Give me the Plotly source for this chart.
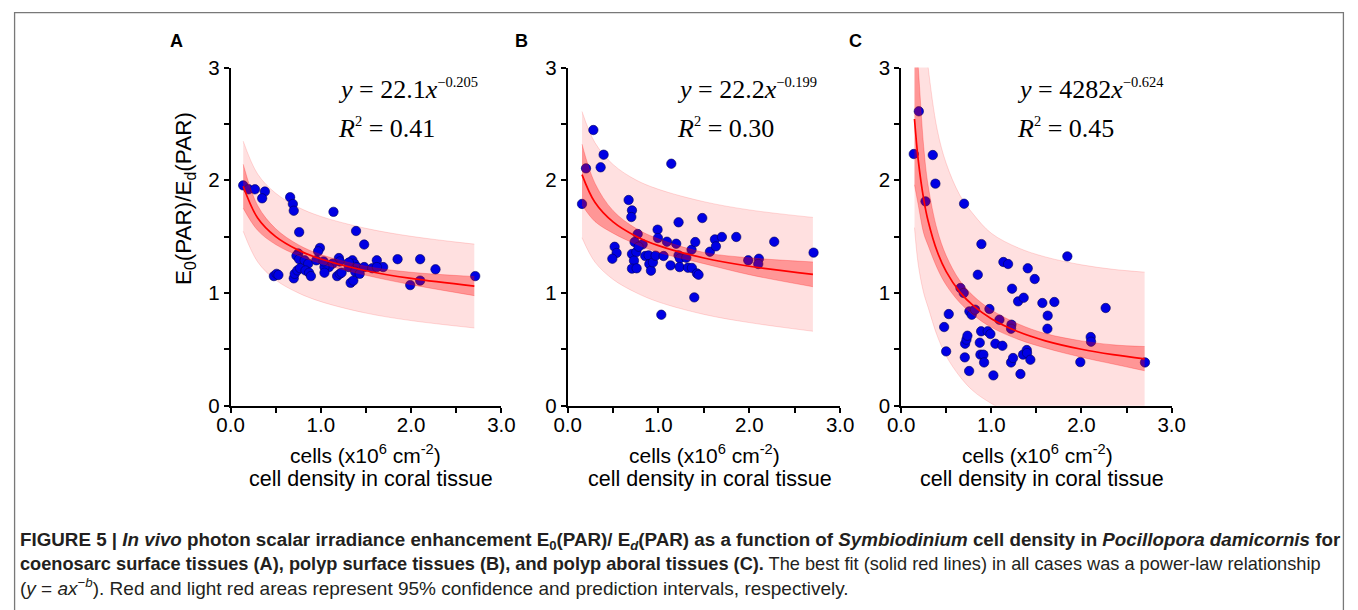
import plotly.graph_objects as go

# full-window figure (body margin removed by a post script)
W, H = 1358, 610
# the photographed page lands slightly inset/scaled in the picture; these
# constants map a wanted picture position to a page position
SX, OX = 0.98, 13.3
SY, OY = 0.963, 10.4

# ---------------- data ----------------
# Panel A: coenosarc surface tissues
a_x = [0.14, 0.20, 0.27, 0.38, 0.35, 0.66, 0.69, 0.70, 1.14, 0.76, 1.39, 1.48, 0.99, 0.97, 0.75,
       0.73, 0.76, 0.82, 0.86, 0.95, 1.20, 1.21, 1.13, 1.09, 1.04, 1.04, 1.35, 1.37, 1.40, 1.48,
       1.31, 1.57, 1.62, 1.69, 1.62, 1.85, 2.10, 2.27, 2.71, 1.99, 2.10, 1.33, 1.36, 1.38, 1.43,
       0.48, 0.51, 0.53, 0.70, 0.71, 0.74, 0.77, 0.83, 0.87, 0.89, 1.18, 1.21, 1.23, 1.03, 1.31]
a_y = [1.955, 1.92, 1.92, 1.90, 1.84, 1.85, 1.79, 1.73, 1.72, 1.54, 1.55, 1.43, 1.40, 1.37, 1.35,
       1.33, 1.30, 1.29, 1.26, 1.29, 1.31, 1.28, 1.26, 1.23, 1.23, 1.18, 1.29, 1.26, 1.23, 1.23,
       1.23, 1.22, 1.29, 1.23, 1.23, 1.30, 1.30, 1.21, 1.15, 1.07, 1.11, 1.09, 1.11, 1.19, 1.17,
       1.15, 1.17, 1.16, 1.13, 1.17, 1.20, 1.22, 1.20, 1.18, 1.15, 1.15, 1.17, 1.18, 1.28, 1.27]

# Panel B: polyp surface tissues
b_x = [0.158, 0.202, 0.283, 0.363, 0.396, 0.517, 0.539, 0.492, 0.671, 0.708, 0.701, 0.771, 0.737,
       0.708, 0.756, 0.730, 0.708, 0.759, 0.825, 0.781, 0.854, 0.891, 0.899, 0.917, 0.939, 0.968,
       0.990, 0.994, 1.056, 1.093, 1.141, 1.133, 1.195, 1.221, 1.221, 1.236, 1.232, 1.306, 1.324,
       1.364, 1.368, 1.405, 1.394, 1.423, 1.441, 1.482, 1.566, 1.621, 1.632, 1.698, 1.856, 1.988,
       2.105, 2.098, 2.274, 2.707, 1.031]
b_y = [1.79, 2.106, 2.446, 2.115, 2.227, 1.41, 1.355, 1.304, 1.825, 1.733, 1.674, 1.523, 1.452,
       1.346, 1.363, 1.287, 1.216, 1.219, 1.432, 1.411, 1.328, 1.334, 1.257, 1.198, 1.272, 1.331,
       1.562, 1.488, 1.328, 1.455, 2.147, 1.245, 1.437, 1.627, 1.334, 1.307, 1.23, 1.313, 1.224,
       1.384, 1.222, 1.452, 0.961, 1.174, 1.162, 1.665, 1.366, 1.476, 1.414, 1.497, 1.497, 1.290,
       1.304, 1.257, 1.455, 1.358, 0.807]

# Panel C: polyp aboral tissues
c_x = [0.140, 0.196, 0.270, 0.351, 0.380, 0.698, 0.890, 0.850, 0.658, 0.694, 0.757, 0.783, 0.820,
       0.528, 0.477, 0.499, 0.706, 0.754, 0.709, 0.724, 0.735, 0.872, 0.887, 0.879, 0.912, 0.920,
       0.960, 0.990, 0.979, 1.023, 1.045, 1.123, 1.090, 1.134, 1.186, 1.223, 1.219, 1.230, 1.219,
       1.241, 1.297, 1.359, 1.323, 1.352, 1.393, 1.396, 1.433, 1.404, 1.481, 1.566, 1.699, 1.625,
       1.622, 1.843, 1.987, 2.102, 2.106, 2.268, 2.704]
c_y = [2.233, 2.612, 1.813, 2.224, 1.970, 1.792, 1.434, 1.162, 1.044, 1.000, 0.837, 0.807, 0.852,
       0.813, 0.698, 0.482, 0.429, 0.308, 0.550, 0.586, 0.621, 0.559, 0.660, 0.453, 0.453, 0.384,
       0.660, 0.636, 0.858, 0.269, 0.550, 0.532, 0.763, 1.275, 1.257, 0.719, 0.683, 1.038, 0.384,
       0.423, 0.926, 0.958, 0.281, 0.453, 0.494, 0.467, 0.408, 1.219, 1.124, 0.911, 0.920, 0.799,
       0.683, 1.325, 0.387, 0.609, 0.568, 0.867, 0.384]

# printed power-law fits  y = a * cells^-b  (cells in cells cm^-2)
fit_a = [22.1, 22.2, 4282]
fit_b = [0.205, 0.199, 0.624]
eq_a = ["22.1", "22.2", "4282"]
eq_b = ["0.205", "0.199", "0.624"]
r2 = ["0.41", "0.30", "0.45"]

# band knots and half widths (A, B)
a_knots = [0.14, 0.3, 0.5, 0.75, 1.0, 1.5, 2.0, 2.7]
a_conf_hw = [0.195, 0.11, 0.07, 0.048, 0.04, 0.04, 0.055, 0.085]
a_pred_hw = [0.40, 0.39, 0.385, 0.38, 0.378, 0.376, 0.374, 0.372]
b_knots = [0.158, 0.3, 0.5, 0.75, 1.0, 1.5, 2.0, 2.7]
b_conf_hw = [0.27, 0.17, 0.10, 0.07, 0.06, 0.05, 0.075, 0.11]
b_pred_hw = [0.56, 0.53, 0.51, 0.50, 0.50, 0.50, 0.50, 0.505]
# panel C band limits (absolute values)
c_knots = [0.148, 0.19, 0.25, 0.3, 0.4, 0.5, 0.65, 0.8, 1.0, 1.3, 1.6, 2.0, 2.35, 2.7]
c_conf_hi = [3.45, 3.0, 2.30, 1.95, 1.56, 1.33, 1.11, 0.975, 0.85, 0.725, 0.64, 0.575, 0.54, 0.525]
c_conf_lo = [1.96, 1.78, 1.53, 1.42, 1.22, 1.07, 0.915, 0.805, 0.695, 0.588, 0.512, 0.43, 0.37, 0.31]
c_pred_hi = [4.6, 4.0, 3.4, 3.0, 2.45, 2.15, 1.87, 1.70, 1.53, 1.40, 1.32, 1.25, 1.21, 1.185]
c_pred_lo = [1.58, 1.25, 1.0, 0.87, 0.62, 0.44, 0.26, 0.13, 0.02, -0.1, -0.18, -0.25, -0.3, -0.34]

x_ticks = [0, 1, 2, 3]
x_ticktext = ["0.0", "1.0", "2.0", "3.0"]
y_ticks = [0, 1, 2, 3]
y_ticktext = ["0", "1", "2", "3"]
panel_labels = ["A", "B", "C"]


def fit(k, xs):
    return [fit_a[k] * (x * 1e6) ** (-fit_b[k]) for x in xs]


def px(x):
    # wanted picture pixel -> paper fraction
    return ((x - OX) / SX) / W


def py(y):
    return 1 - ((y - OY) / SY) / H


fa = fit(0, a_knots)
fb = fit(1, b_knots)
fc = fit(2, c_knots)
panels = [
    dict(x=a_x, y=a_y, k=a_knots, f=fa,
         clo=[f - h for f, h in zip(fa, a_conf_hw)], chi=[f + h for f, h in zip(fa, a_conf_hw)],
         plo=[f - h for f, h in zip(fa, a_pred_hw)], phi=[f + h for f, h in zip(fa, a_pred_hw)]),
    dict(x=b_x, y=b_y, k=b_knots, f=fb,
         clo=[f - h for f, h in zip(fb, b_conf_hw)], chi=[f + h for f, h in zip(fb, b_conf_hw)],
         plo=[f - h for f, h in zip(fb, b_pred_hw)], phi=[f + h for f, h in zip(fb, b_pred_hw)]),
    dict(x=c_x, y=c_y, k=c_knots, f=fc, clo=c_conf_lo, chi=c_conf_hi, plo=c_pred_lo, phi=c_pred_hi),
]

x_dom_px = [(230, 501), (567.3, 840), (901, 1171.7)]
y_dom = [py(404.4), py(66)]

fig = go.Figure()
LIGHT = "rgba(255,0,0,0.12)"
DARK = "rgba(255,0,0,0.33)"
for i, p in enumerate(panels):
    xa = "x" if i == 0 else f"x{i+1}"
    ya = "y" if i == 0 else f"y{i+1}"
    sp = dict(shape="spline", smoothing=1.0)
    fig.add_trace(go.Scatter(x=p["k"], y=p["plo"], mode="lines", xaxis=xa, yaxis=ya,
                             line=dict(color="rgba(255,0,0,0.18)", width=0.8, **sp),
                             hoverinfo="skip", showlegend=False))
    fig.add_trace(go.Scatter(x=p["k"], y=p["phi"], mode="lines", xaxis=xa, yaxis=ya, fill="tonexty",
                             fillcolor=LIGHT, line=dict(color="rgba(255,0,0,0.18)", width=0.8, **sp),
                             hoverinfo="skip", showlegend=False))
    fig.add_trace(go.Scatter(x=p["x"], y=p["y"], mode="markers", xaxis=xa, yaxis=ya,
                             marker=dict(size=9.4, color="rgb(0,0,228)",
                                         line=dict(color="rgb(0,0,90)", width=0.6)),
                             showlegend=False))
    fig.add_trace(go.Scatter(x=p["k"], y=p["clo"], mode="lines", xaxis=xa, yaxis=ya,
                             line=dict(color="rgba(255,0,0,0.3)", width=0.8, **sp),
                             hoverinfo="skip", showlegend=False))
    fig.add_trace(go.Scatter(x=p["k"], y=p["chi"], mode="lines", xaxis=xa, yaxis=ya, fill="tonexty",
                             fillcolor=DARK, line=dict(color="rgba(255,0,0,0.3)", width=0.8, **sp),
                             hoverinfo="skip", showlegend=False))
    fig.add_trace(go.Scatter(x=p["k"], y=p["f"], mode="lines", xaxis=xa, yaxis=ya,
                             line=dict(color="rgb(255,0,0)", width=1.7, **sp),
                             hoverinfo="skip", showlegend=False))

axis_font = dict(family="Liberation Sans, Arial, sans-serif", size=20.5, color="black")
layout = dict(
    width=W, height=H, margin=dict(l=0, r=0, t=0, b=0, pad=0),
    paper_bgcolor="white", plot_bgcolor="white", showlegend=False,
)
for i in range(3):
    xk = "xaxis" if i == 0 else f"xaxis{i+1}"
    yk = "yaxis" if i == 0 else f"yaxis{i+1}"
    xa = "x" if i == 0 else f"x{i+1}"
    ya = "y" if i == 0 else f"y{i+1}"
    common = dict(showline=True, linecolor="black", linewidth=1.6, ticks="outside", ticklen=5,
                  tickwidth=1.6, tickcolor="black", showgrid=False, zeroline=False,
                  tickfont=axis_font, fixedrange=True,
                  minor=dict(dtick=0.5, tick0=0, ticks="outside", ticklen=5, tickwidth=1.6,
                             tickcolor="black", showgrid=False))
    layout[xk] = dict(domain=[px(x_dom_px[i][0]), px(x_dom_px[i][1])], range=[0, 3], anchor=ya,
                      tickmode="array", tickvals=x_ticks, ticktext=x_ticktext,
                      ticklabelstandoff=-5, **common)
    layout[yk] = dict(domain=y_dom, range=[0, 3], anchor=xa,
                      tickmode="array", tickvals=y_ticks, ticktext=y_ticktext, **common)
fig.update_layout(**layout)

ann = []
serif = "Liberation Serif, Times New Roman, serif"
sans = "Liberation Sans, Arial, sans-serif"
label_x = [176, 521, 855]
eq_left = [336, 675, 1015]
xt1 = [365, 704, 1037]
xt2 = [371, 710, 1042]


def note(x, y, text, font, xanchor="center", yanchor="middle", **kw):
    return dict(x=px(x), y=py(y), xref="paper", yref="paper", showarrow=False,
                xanchor=xanchor, yanchor=yanchor, text=text, font=font, **kw)


for i in range(3):
    ann.append(note(label_x[i], 39, f"<b>{panel_labels[i]}</b>",
                    dict(family=sans, size=18, color="black")))
    ann.append(note(eq_left[i], 87,
                    f"<i>y</i> = {eq_a[i]}<i>x</i><sup><span style='font-size:14.5px'>\u2212{eq_b[i]}</span></sup>",
                    dict(family=serif, size=26, color="black"), xanchor="left"))
    ann.append(note(eq_left[i], 126,
                    f"<i>R</i><sup><span style='font-size:14.5px'>2</span></sup> = {r2[i]}",
                    dict(family=serif, size=26, color="black"), xanchor="left"))
    ann.append(note(xt1[i], 453, "cells (x10<sup>6</sup> cm<sup>-2</sup>)",
                    dict(family=sans, size=21, color="black")))
    ann.append(note(xt2[i], 478, "cell density in coral tissue",
                    dict(family=sans, size=21.5, color="black")))

ann.append(note(185, 197, "E<sub>0</sub>(PAR)/E<sub>d</sub>(PAR)",
                dict(family=sans, size=22.5, color="black"), textangle=-90))

captions = [
    "<b>FIGURE 5 | <i>In vivo</i> photon scalar irradiance enhancement E<sub>0</sub>(PAR)/ E<sub><i>d</i></sub>(PAR) as a function of <i>Symbiodinium</i> cell density in <i>Pocillopora damicornis</i> for</b>",
    "<b>coenosarc surface tissues (A), polyp surface tissues (B), and polyp aboral tissues (C).</b> The best fit (solid red lines) in all cases was a power-law relationship",
    "(<i>y</i> = <i>ax</i><sup>\u2212<i>b</i></sup>). Red and light red areas represent 95% confidence and prediction intervals, respectively.",
]
cap_y = [540, 563, 586]
cap_size = [18.8, 18.2, 19.0]
for t, yy, fs in zip(captions, cap_y, cap_size):
    ann.append(note(17, yy, t, dict(family=sans, size=fs, color="rgb(35,31,32)"), xanchor="left"))
fig.update_layout(annotations=ann)

# grey frame round the figure (kept inside the page)
fig.add_shape(type="rect", xref="paper", yref="paper",
              x0=max(px(8.5), 0.6 / W), x1=min(px(1348.5), 1 - 0.6 / W),
              y0=min(py(9.5), 1 - 0.6 / H), y1=py(640),
              line=dict(color="rgb(120,120,120)", width=1.3), layer="above")

fig.write_html("out.html", config={"displayModeBar": False},
               post_script="document.body.style.margin='0';document.body.style.overflow='hidden';")
